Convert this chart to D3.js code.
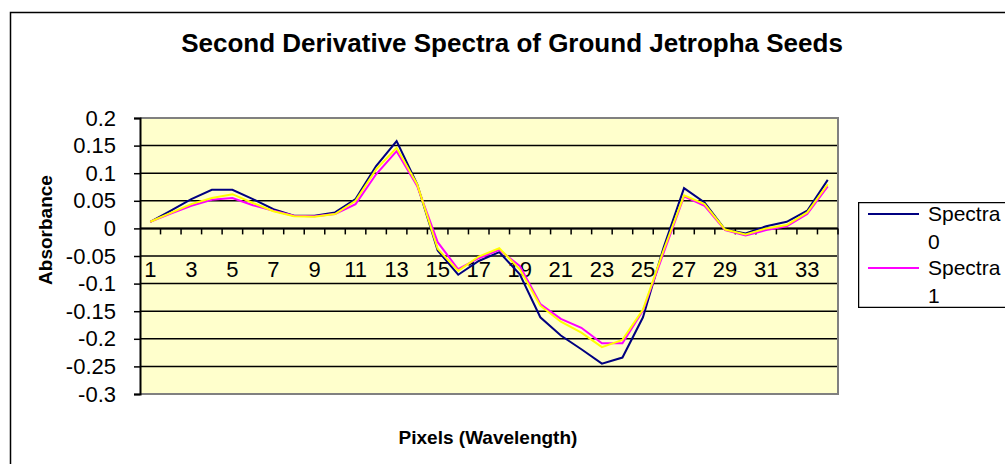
<!DOCTYPE html>
<html>
<head>
<meta charset="utf-8">
<script src="https://cdn.jsdelivr.net/npm/d3@7"></script>
<style>
  body { margin: 0; background: #fff; }
  text { font-family: "Liberation Sans", Arial, sans-serif; }
</style>
</head>
<body>
<div id="plot"></div>
<script>
// pixels 1..34
var pixels = d3.range(1, 35);
var seriesNames = ["Spectra 0", "Spectra 1", "Spectra 2"];
var spectra0 = [0.012, 0.032, 0.053, 0.070, 0.070, 0.053, 0.035, 0.023, 0.023, 0.029, 0.053, 0.113, 0.158, 0.080, -0.040, -0.084, -0.059, -0.043, -0.083, -0.161, -0.194, -0.219, -0.245, -0.234, -0.161, -0.035, 0.073, 0.047, -0.002, -0.009, 0.004, 0.012, 0.032, 0.088];
var spectra1 = [0.012, 0.027, 0.041, 0.052, 0.055, 0.042, 0.032, 0.023, 0.022, 0.026, 0.044, 0.098, 0.140, 0.077, -0.025, -0.074, -0.054, -0.039, -0.068, -0.137, -0.164, -0.180, -0.208, -0.208, -0.149, -0.045, 0.058, 0.041, -0.003, -0.013, -0.003, 0.004, 0.026, 0.076];
var spectra2 = [0.012, 0.028, 0.044, 0.055, 0.062, 0.046, 0.031, 0.022, 0.021, 0.026, 0.050, 0.107, 0.146, 0.080, -0.037, -0.077, -0.051, -0.036, -0.074, -0.140, -0.169, -0.189, -0.215, -0.202, -0.147, -0.040, 0.060, 0.044, -0.002, -0.011, 0.000, 0.006, 0.029, 0.080];
var yTicks = [0.2, 0.15, 0.1, 0.05, 0, -0.05, -0.1, -0.15, -0.2, -0.25, -0.3];
var yTickLabels = ["0.2", "0.15", "0.1", "0.05", "0", "-0.05", "-0.1", "-0.15", "-0.2", "-0.25", "-0.3"];
var xTickLabels = pixels.filter(function(p) { return p % 2 == 1; });

plotLineChart();

function plotLineChart() {
    var width = 1005;
    var height = 464;
    var left = 140, right = 838, top = 118, bottom = 394;
    var colors = ["#000080", "#ff00ff", "#ffff00"];
    var allSeries = [spectra0, spectra1, spectra2];

    var svg = d3.select("#plot").append("svg").attr("width", width).attr("height", height);

    // chart border
    svg.append("rect")
        .attr("x", 10.5).attr("y", 12.5)
        .attr("width", 1100).attr("height", 1000)
        .attr("fill", "#fff").attr("stroke", "#000").attr("stroke-width", 1.5);

    var xScale = d3.scaleBand()
        .range([left, right])
        .domain(pixels);

    var yScale = d3.scaleLinear()
        .domain([-0.3, 0.2])
        .range([bottom, top]);

    // plot area
    svg.append("rect")
        .attr("x", left).attr("y", top)
        .attr("width", right - left).attr("height", bottom - top)
        .attr("fill", "#ffffcc");

    // gridlines
    svg.append("g")
        .selectAll("line")
        .data(yTicks.filter(function(v) { return v != 0.2; }))
        .enter()
        .append("line")
        .attr("x1", left).attr("x2", right)
        .attr("y1", function(d) { return yScale(d); })
        .attr("y2", function(d) { return yScale(d); })
        .attr("stroke", "#000").attr("stroke-width", 1.5);

    // plot border (grey)
    svg.append("path")
        .attr("d", "M" + left + "," + top + "H" + right + "V" + bottom + "H" + left)
        .attr("fill", "none").attr("stroke", "#808080").attr("stroke-width", 2);

    // y axis
    var yAxis = svg.append("g")
        .attr("transform", "translate(" + left + ",0)")
        .call(d3.axisLeft(yScale)
            .tickValues(yTicks)
            .tickSize(6)
            .tickPadding(18)
            .tickFormat(function(d, i) { return yTickLabels[i]; }));
    yAxis.select(".domain").attr("stroke", "#000").attr("stroke-width", 2);
    yAxis.selectAll(".tick line").attr("stroke", "#000").attr("stroke-width", 1.5);
    yAxis.selectAll("text").attr("font-size", 22).attr("fill", "#000")
        .attr("font-family", "Liberation Sans, Arial, sans-serif");

    // x axis at zero: tick marks between categories
    var y0 = yScale(0);
    svg.append("line")
        .attr("x1", left).attr("x2", right)
        .attr("y1", y0).attr("y2", y0)
        .attr("stroke", "#000").attr("stroke-width", 2);
    svg.append("g")
        .selectAll("line")
        .data(pixels)
        .enter()
        .append("line")
        .attr("x1", function(d) { return xScale(d) + xScale.bandwidth(); })
        .attr("x2", function(d) { return xScale(d) + xScale.bandwidth(); })
        .attr("y1", y0).attr("y2", y0 + 6)
        .attr("stroke", "#000").attr("stroke-width", 1.5);

    var xAxis = svg.append("g")
        .attr("transform", "translate(0," + y0 + ")")
        .call(d3.axisBottom(xScale)
            .tickValues(xTickLabels)
            .tickSize(0)
            .tickPadding(33));
    xAxis.select(".domain").remove();
    xAxis.selectAll("text").attr("font-size", 22).attr("fill", "#000")
        .attr("font-family", "Liberation Sans, Arial, sans-serif");

    // series lines
    var line = d3.line()
        .x(function(d, i) { return xScale(pixels[i]) + xScale.bandwidth() / 2; })
        .y(function(d) { return yScale(d); });

    svg.append("g")
        .selectAll("path")
        .data(allSeries)
        .enter()
        .append("path")
        .attr("d", line)
        .attr("fill", "none")
        .attr("stroke", function(d, i) { return colors[i]; })
        .attr("stroke-width", 2);

    // titles
    svg.append("text")
        .attr("x", 512).attr("y", 52)
        .attr("text-anchor", "middle")
        .attr("font-size", 26).attr("font-weight", "bold")
        .text("Second Derivative Spectra of Ground Jetropha Seeds");

    svg.append("text")
        .attr("x", 488).attr("y", 444)
        .attr("text-anchor", "middle")
        .attr("font-size", 19).attr("font-weight", "bold")
        .text("Pixels (Wavelength)");

    svg.append("text")
        .attr("transform", "translate(52,230) rotate(-90)")
        .attr("text-anchor", "middle")
        .attr("font-size", 19).attr("font-weight", "bold")
        .text("Absorbance");

    // legend (box only fits two entries)
    svg.append("clipPath").attr("id", "legclip")
        .append("rect").attr("x", 858).attr("y", 202).attr("width", 200).attr("height", 106);
    var legend = svg.append("g").attr("clip-path", "url(#legclip)");
    legend.append("rect")
        .attr("x", 858.5).attr("y", 202.5).attr("width", 200).attr("height", 105)
        .attr("fill", "#fff").attr("stroke", "#000").attr("stroke-width", 1.5);
    var item = legend.selectAll("g.item")
        .data(seriesNames)
        .enter()
        .append("g")
        .attr("transform", function(d, i) { return "translate(0," + (214 + i * 54) + ")"; });
    item.append("line")
        .attr("x1", 868).attr("x2", 919)
        .attr("stroke", function(d, i) { return colors[i]; })
        .attr("stroke-width", 2);
    var t = item.append("text")
        .attr("x", 928).attr("y", 0)
        .attr("font-size", 21);
    t.append("tspan").attr("x", 928).attr("dy", "0.35em")
        .text(function(d) { return d.split(" ")[0]; });
    t.append("tspan").attr("x", 928).attr("dy", 28)
        .text(function(d) { return d.split(" ")[1]; });
}
</script>
</body>
</html>
